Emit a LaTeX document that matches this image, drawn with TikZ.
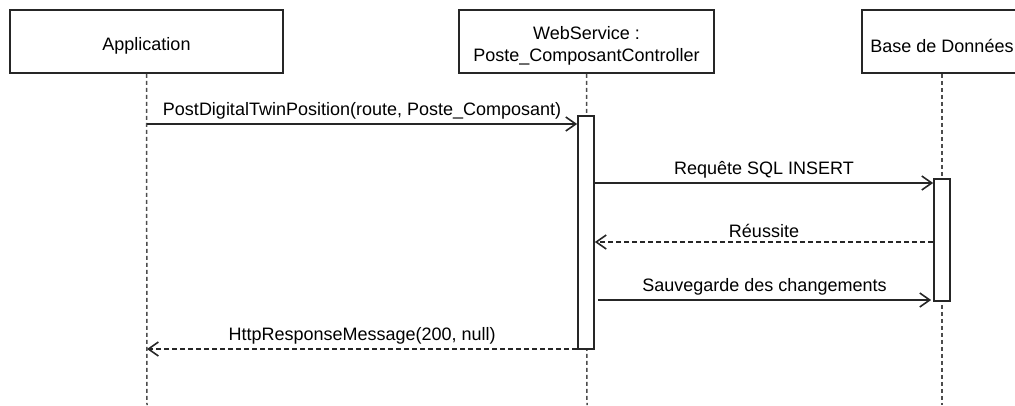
\documentclass[tikz,border=0pt]{standalone}
\usepackage{fontspec}
\setmainfont{Liberation Sans}
\usetikzlibrary{arrows.meta}
\begin{document}
\begin{tikzpicture}[x=1pt,y=-1pt,
  lbl/.style={font=\fontsize{18}{22}\selectfont},
  obj/.style={draw=black!85, line width=1.7pt, minimum height=63pt, inner sep=0pt},
  objtext/.style={lbl, align=center, yshift=-4pt},
  act/.style={draw=black!85, fill=white, line width=1.7pt, minimum width=16pt, inner sep=0pt},
  life/.style={draw=black!70, line width=1.5pt, dash pattern=on 4pt off 3pt},
  msg/.style={draw=black!85, line width=1.6pt, -{Straight Barb[length=10pt, width=14pt, line width=1.6pt]}},
  ret/.style={msg, dash pattern=on 5pt off 3pt},
  mlab/.style={lbl, above, inner sep=0pt, yshift=4pt}]
\useasboundingbox (0,0) rectangle (1015,405);
\clip (0,0) rectangle (1015,405);
% participants
\node[obj, minimum width=273pt] (app) at (146.5,41.5) {};
\node[objtext] (appT) at (app.center) {Application};
\node[obj, minimum width=255pt] (ws) at (586.5,41.5) {};
\node[objtext] (wsT) at (ws.center) {WebService :\\Poste\_ComposantController};
\node[obj, minimum width=160pt] (db) at (942,41.5) {};
\node[objtext] (dbT) at (db.center) {Base de Données};
% lifeline ends
\coordinate (appEnd) at (147,405);
\coordinate (wsEnd) at (587,405);
\coordinate (dbEnd) at (942,405);
\draw[life] (app.south) -- (appEnd);
\draw[life] (ws.south) -- (wsEnd);
\draw[life] (db.south) -- (dbEnd);
% activations
\node[act, minimum height=233pt] (act1) at (586,232.5) {};
\node[act, minimum height=122pt] (act2) at (942,240) {};
% message points on the application lifeline
\coordinate (m1s) at (147,124);
\coordinate (m5e) at (147,349);
% messages
\draw[msg] (m1s) -- node[mlab] {PostDigitalTwinPosition(route, Poste\_Composant)} (act1.west |- m1s);
\coordinate (m2) at (0,183);
\draw[msg] (act1.east |- m2) -- node[mlab] {Requête SQL INSERT} (act2.west |- m2);
\coordinate (m3) at (0,242);
\draw[ret] (act2.west |- m3) -- node[mlab] {Réussite} (act1.east |- m3);
\coordinate (m4) at (0,300);
\draw[msg] ([xshift=3pt]act1.east |- m4) -- node[mlab] {Sauvegarde des changements} ([xshift=-2pt]act2.west |- m4);
\draw[ret] (act1.west |- m5e) -- node[mlab] {HttpResponseMessage(200, null)} (m5e);
\end{tikzpicture}
\end{document}
